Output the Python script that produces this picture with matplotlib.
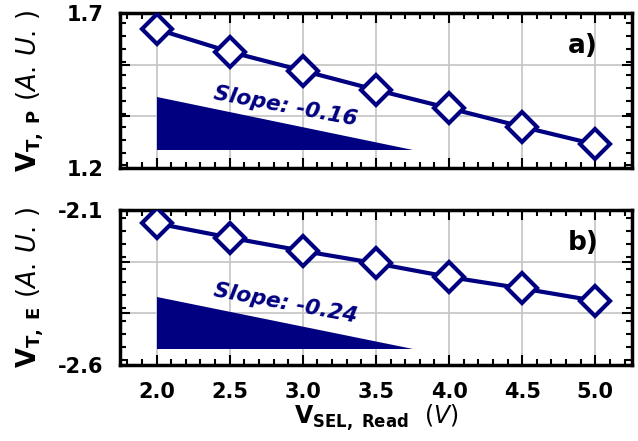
import numpy as np
import matplotlib
matplotlib.use('Agg')
import matplotlib.pyplot as plt
from matplotlib.ticker import MultipleLocator

# data
v_sel = [2.0, 2.5, 3.0, 3.5, 4.0, 4.5, 5.0]
vt_p = [1.648, 1.575, 1.514, 1.452, 1.393, 1.333, 1.276]
vt_e = [-2.143, -2.189, -2.232, -2.272, -2.316, -2.353, -2.393]

# slope wedges: (x_left, x_right, y_top, y_bottom)
wedge_p = (2.0, 3.75, 1.43, 1.258)
wedge_e = (2.0, 3.75, -2.38, -2.549)
slope_p = 'Slope: -0.16'
slope_e = 'Slope: -0.24'

navy = '#000080'
plt.rcParams['font.family'] = 'DejaVu Sans'
plt.rcParams['mathtext.fontset'] = 'dejavusans'

fig = plt.figure(figsize=(6.38, 4.41), dpi=100)
ax1 = fig.add_axes([0.188, 0.619, 0.8025, 0.3515])
ax2 = fig.add_axes([0.188, 0.1723, 0.8025, 0.3515])


def style(ax, ylo, yhi, lab):
    ax.set_xlim(1.75, 5.25)
    ax.set_ylim(ylo, yhi)
    step = (yhi - ylo) / 3
    ax.set_yticks([ylo + i * step for i in range(4)])
    ax.set_yticklabels(['%.1f' % ylo, '', '', '%.1f' % yhi])
    ax.yaxis.set_minor_locator(MultipleLocator(step / 4))
    ax.set_xticks(v_sel)
    ax.xaxis.set_minor_locator(MultipleLocator(0.1))
    ax.grid(True, which='major', color='#c4c4c4', lw=1.2)
    ax.set_axisbelow(True)
    ax.tick_params(which='both', direction='in', top=True, right=True, width=1.5)
    ax.tick_params(which='major', length=7, labelsize=15)
    ax.tick_params(which='minor', length=4)
    ax.tick_params(axis='x', which='major', pad=12)
    ax.tick_params(axis='y', which='major', pad=12)
    for lbl in ax.get_xticklabels() + ax.get_yticklabels():
        lbl.set_fontweight('bold')
    for s in ax.spines.values():
        s.set_linewidth(2.5)
    ax.set_ylabel(lab, fontsize=18.5)
    ax.yaxis.set_label_coords(-0.145, 0.5)


def wedge(ax, w):
    x0, x1, yt, yb = w
    ax.fill([x0, x0, x1], [yt, yb, yb], color=navy, lw=0, zorder=2)


style(ax1, 1.2, 1.7, r'$\mathbf{V}_{\mathbf{T,\ P}}\ (A.\,U.\,)$')
style(ax2, -2.6, -2.1, r'$\mathbf{V}_{\mathbf{T,\ E}}\ (A.\,U.\,)$')

for ax, y, w, s, ty, tag in [(ax1, vt_p, wedge_p, slope_p, 1.40, 'a)'),
                             (ax2, vt_e, wedge_e, slope_e, -2.40, 'b)')]:
    wedge(ax, w)
    ax.plot(v_sel, y, color=navy, lw=3, marker='D', ms=15, mfc='white',
            mec=navy, mew=3, zorder=3)
    ax.text(2.88, ty, s, color=navy, fontsize=15.5, fontweight='bold',
            fontstyle='italic', rotation=-10.5, ha='center', va='center')
    ax.text(0.905, 0.79, tag, transform=ax.transAxes, fontsize=19,
            fontweight='bold', ha='center', va='center')

ax1.tick_params(labelbottom=False)
ax2.set_xlabel(r'$\mathbf{V}_{\mathbf{SEL,\ Read}}\ \ (V)$', fontsize=17, labelpad=1)

fig.savefig('out.png', dpi=100)
